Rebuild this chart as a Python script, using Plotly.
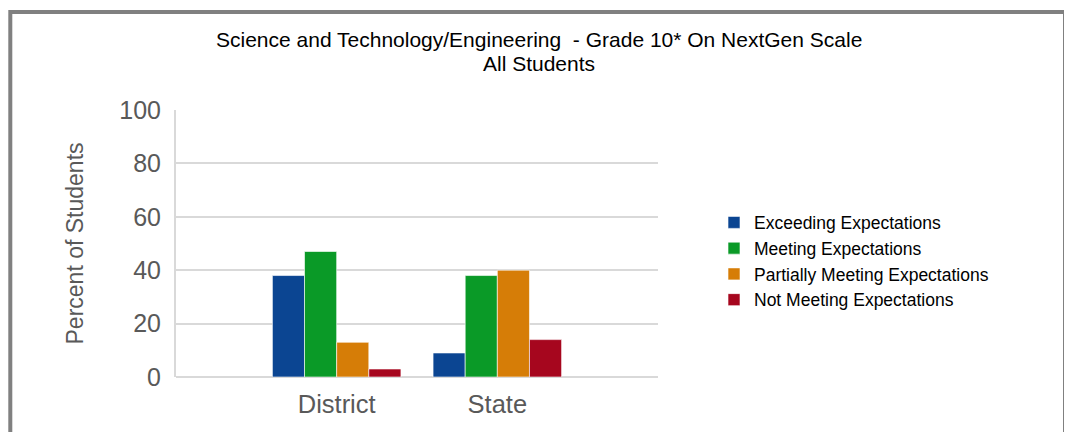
import plotly.graph_objects as go

categories = ["District", "State"]
series_names = ["Exceeding Expectations", "Meeting Expectations",
                "Partially Meeting Expectations", "Not Meeting Expectations"]
exceeding = [38, 9]
meeting = [47, 38]
partially = [13, 40]
not_meeting = [3, 14]
series_values = [exceeding, meeting, partially, not_meeting]
colors = ["#0B4592", "#0A9A27", "#D67D07", "#A6061E"]
y_ticks = [0, 20, 40, 60, 80, 100]
title_line1 = "Science and Technology/Engineering  - Grade 10* On NextGen Scale"
title_line2 = "All Students"

fig = go.Figure()
for name, vals, col in zip(series_names, series_values, colors):
    fig.add_trace(go.Bar(x=categories, y=vals, name=name,
                         marker=dict(color=col, line=dict(color="rgba(255,255,255,0.6)", width=1))))

# page body has an 8px margin, so positions are reference - 8
OFF = 8
L, R, T, B = 176 - OFF, 658 - OFF, 110 - OFF, 377 - OFF
W, H = 1072, 432
def px(x): return (x - OFF - L) / (R - L)
def py(y): return (B - (y - OFF)) / (B - T)

FONT = "Liberation Sans, Arial, sans-serif"
fig.update_layout(
    width=W, height=H,
    margin=dict(l=L, r=W - R, t=T, b=H - B, pad=0),
    paper_bgcolor="white", plot_bgcolor="white",
    barmode="group", bargap=0.2, bargroupgap=0,
    font=dict(family=FONT),
    legend=dict(x=px(714), xanchor="left", y=py(261), yanchor="middle",
                font=dict(size=17.5, color="black"), tracegroupgap=0,
                itemwidth=30, bgcolor="rgba(0,0,0,0)"),
    xaxis=dict(range=[-1, 2], showgrid=False, zeroline=False, showline=False,
               tickfont=dict(size=25.5, color="#595959"), ticks="", ticklabelstandoff=9),
    yaxis=dict(range=[0, 100], tickvals=y_ticks, showgrid=True, gridcolor="#D9D9D9", gridwidth=2,
               zeroline=True, zerolinecolor="#D9D9D9", zerolinewidth=2,
               showline=True, linecolor="#D9D9D9", linewidth=2,
               tickfont=dict(size=25, color="#595959"), ticks="", ticklabelstandoff=8,
               title=dict(text="Percent of Students", font=dict(size=23, color="#595959"), standoff=29)),
    showlegend=True,
)

fig.add_annotation(text=title_line1, xref="paper", yref="paper", x=px(538.5), y=py(39),
                   xanchor="center", yanchor="middle", showarrow=False,
                   font=dict(size=21, color="black", family=FONT))
fig.add_annotation(text=title_line2, xref="paper", yref="paper", x=px(538.5), y=py(63),
                   xanchor="center", yanchor="middle", showarrow=False,
                   font=dict(size=21, color="black", family=FONT))

fig.add_shape(type="rect", xref="paper", yref="paper",
              x0=px(10.3), x1=px(1065), y0=py(480), y1=py(12),
              line=dict(color="#808080", width=4), fillcolor="rgba(0,0,0,0)", layer="below")

fig.write_html("out.html")
